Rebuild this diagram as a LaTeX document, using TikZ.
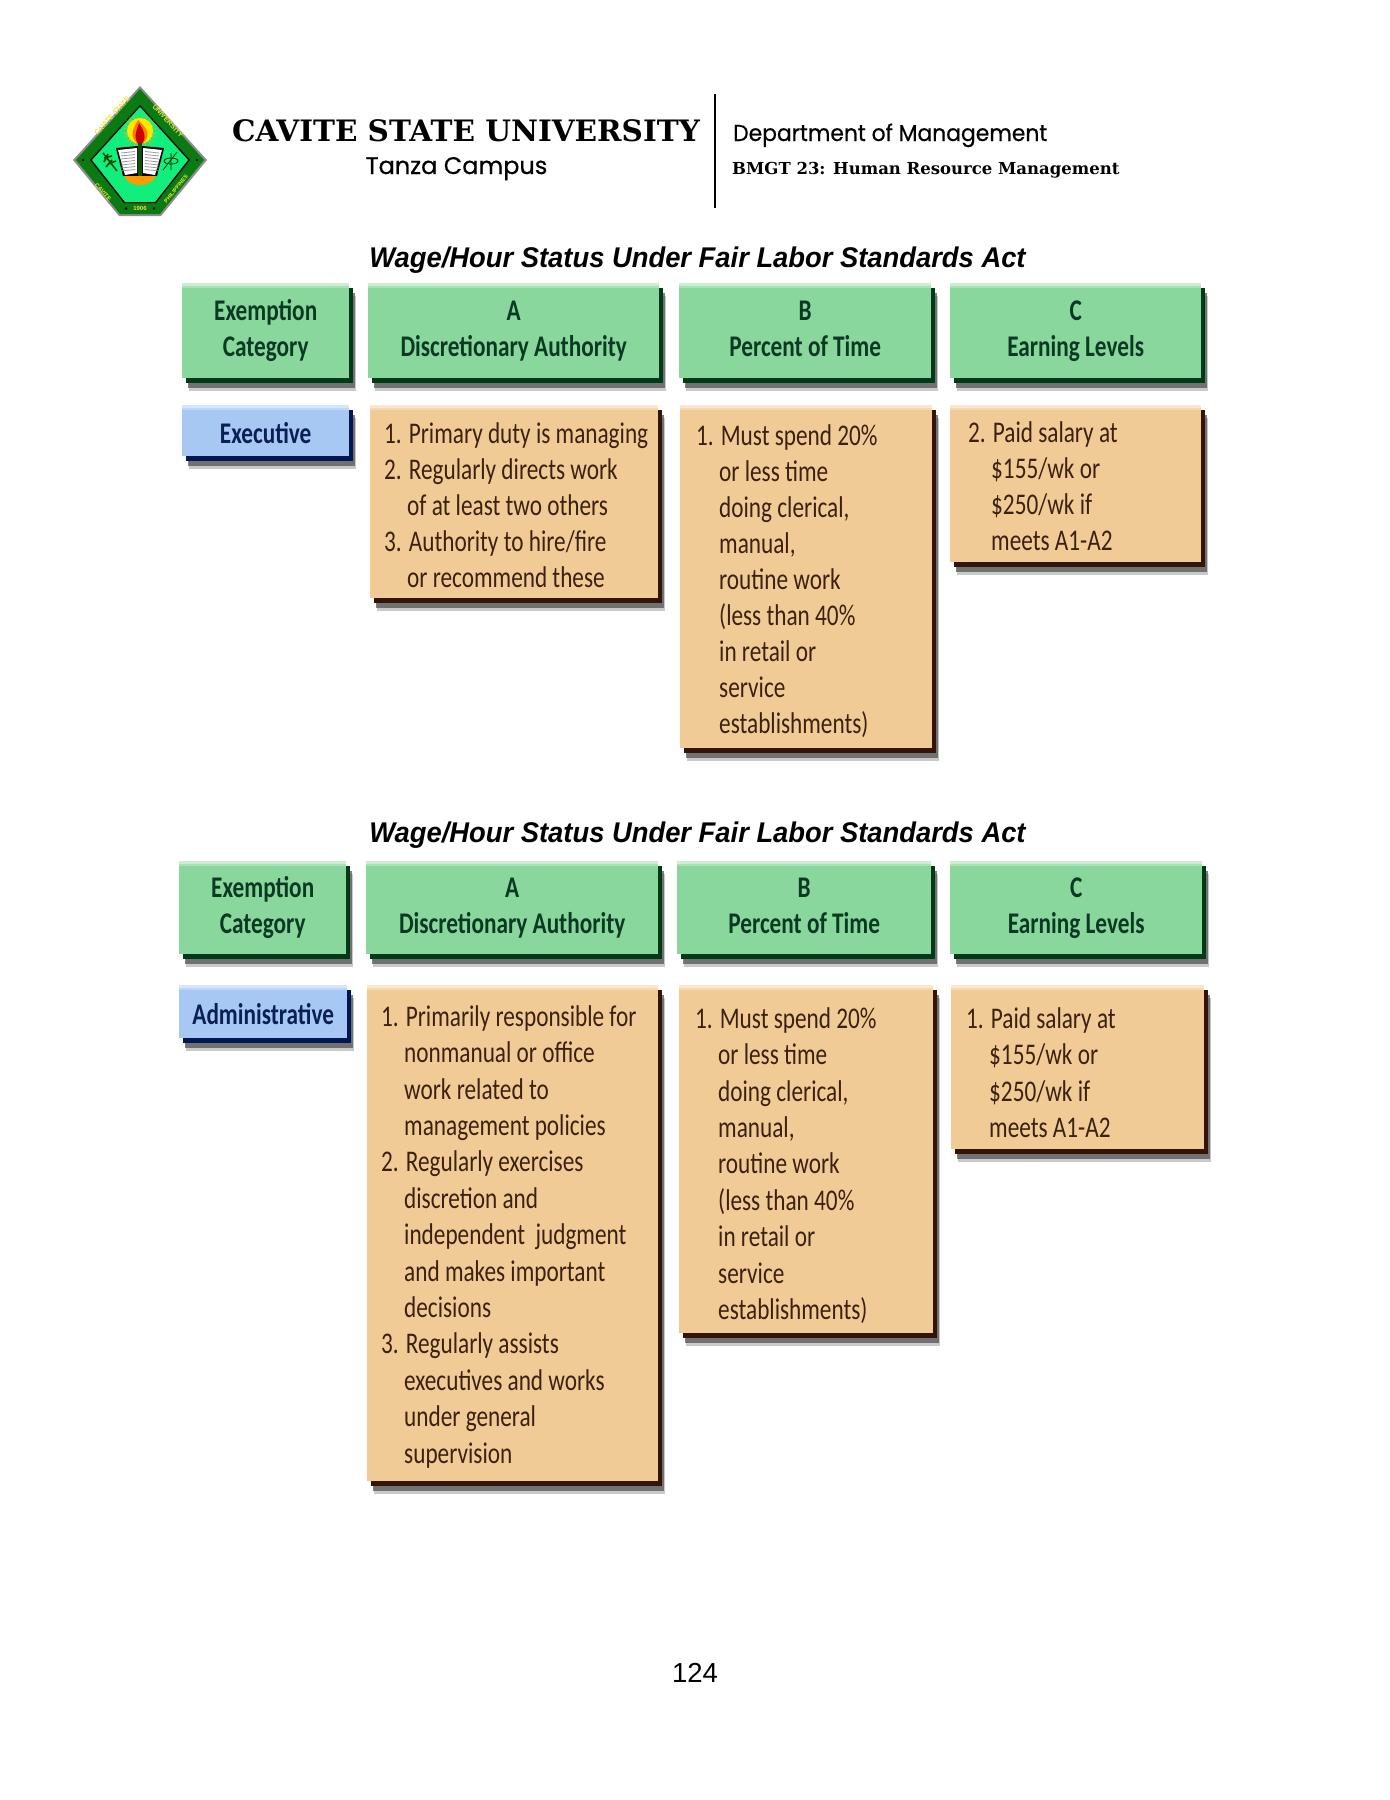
\documentclass[tikz,border=0pt]{standalone}
\usepackage{fontspec}
\usetikzlibrary{shadows}
\setmainfont{Liberation Sans}
\newfontfamily\titlefont[FakeStretch=.96]{Liberation Sans}
\newfontfamily\tblfont[FakeStretch=.775]{Carlito}
\newfontfamily\slabfont{DejaVu Serif}
\newfontfamily\geofont[FakeBold=.5]{Poppins}
\definecolor{hdrgreen}{HTML}{8AD79E}
\definecolor{hdrdark}{HTML}{003A16}
\definecolor{hdrink}{HTML}{0B3A22}
\definecolor{catblue}{HTML}{A8C8F4}
\definecolor{catdark}{HTML}{00184F}
\definecolor{catink}{HTML}{0A1F55}
\definecolor{bodytan}{HTML}{F1CB96}
\definecolor{bodydark}{HTML}{341404}
\definecolor{bodyink}{HTML}{3C2110}
\definecolor{sealgreen}{HTML}{0A7A12}
\definecolor{sealmint}{HTML}{12EE7C}
\definecolor{sealgold}{HTML}{E4E830}
\newcommand{\tblhang}{\hspace*{23pt}}
\newcommand{\firstline}{\rule{0pt}{22pt}}
\tikzset{
  tblbox/.style 2 args={anchor=north west,inner sep=0pt,fill=#1,
    general shadow={shadow xshift=7pt,shadow yshift=-13pt,fill=black!60,opacity=.35},
    general shadow={shadow xshift=6pt,shadow yshift=-10pt,fill=black!70,opacity=.7},
    general shadow={shadow xshift=4pt,shadow yshift=-5pt,fill=#2},
    path picture={\fill[#1!45!white] (path picture bounding box.north west) rectangle ([yshift=-2.5pt]path picture bounding box.north east);
      \fill[#1!75!white] ([yshift=-2.5pt]path picture bounding box.north west) rectangle ([yshift=-5pt]path picture bounding box.north east);}},
  hdrbox/.style={tblbox={hdrgreen}{hdrdark},text=hdrink,font=\tblfont\fontsize{30}{36}\selectfont\bfseries,align=center,execute at begin node={\rule{0pt}{60pt}},execute at end node={\rule[-8pt]{0pt}{8pt}}},
  catbox/.style={tblbox={catblue}{catdark},text=catink,font=\tblfont\fontsize{30}{36}\selectfont\bfseries,align=center,execute at begin node={\rule{0pt}{25pt}}},
  bodybox/.style={tblbox={bodytan}{bodydark}},
  bodytxt/.style={anchor=north west,inner sep=0pt,text=bodyink,font=\tblfont\fontsize{30}{36}\selectfont,align=left},
  tabtitle/.style={inner sep=0pt,font=\titlefont\fontsize{28.5}{34}\selectfont\bfseries\itshape},
  sealtxt/.style={text=sealgold,inner sep=0pt,font=\fontsize{7}{8}\selectfont\bfseries}
}
\begin{document}
\begin{tikzpicture}[x=1pt,y=-1pt]
\path[use as bounding box,fill=white] (0,0) rectangle (1390,1800);
% seal
\fill[black!45] (140,86)--(207,160)--(161,216)--(119,216)--(73,160)--cycle;
\fill[sealgreen] (140,89)--(204,160)--(160,214)--(120,214)--(76,160)--cycle;
\fill[black] (140,105)--(190,160)--(156,203)--(124,203)--(90,160)--cycle;
\fill[sealmint] (140,107)--(188,160)--(155,202)--(125,202)--(92,160)--cycle;
\foreach \ang in {0,30,...,330}{
  \fill[orange!60!yellow] (140,131)++(\ang-12:12)--++(\ang:6)--(140,131)--cycle;
  \fill[orange!60!yellow] (140,131)++(\ang+12:12)--++(\ang:6)--(140,131)--cycle;
}
\fill[yellow!90!orange] (140,131) circle (13);
\fill[orange] (140,146) .. controls (127,136) and (134,128) .. (138,120) .. controls (147,128) and (153,136) .. (140,146);
\fill[red!80!black] (140,146) .. controls (132,138) and (137,130) .. (139,123) .. controls (144,131) and (148,138) .. (140,146);
\fill[black] (116,148)--(138,146)--(142,146)--(164,148)--(157,176)--(123,176)--cycle;
\fill[white] (118,150)--(137,148)--(137,173)--(125,175)--cycle;
\fill[white] (162,150)--(143,148)--(143,173)--(155,175)--cycle;
\foreach \ly in {153,156,...,171}{
  \draw[black!40,line width=.8] (121,\ly)--(135,\ly-1.5);
  \draw[black!40,line width=.8] (159,\ly)--(145,\ly-1.5);
}
\draw[sealgreen!70!black,line width=4] (140,143)--(140,176);
\fill[orange!80!yellow] (124,176) .. controls (129,188) and (151,188) .. (156,176)--cycle;
\draw[sealgreen!60!black,line width=1.6] (103,153)--(117,171) (108,154)--(104,162) (112,160)--(106,167) (104,158)--(112,156) (108,164)--(116,161);
\draw[black!80!green,line width=.8] (171,161) ellipse (7 and 3) (163,170)--(177,152) (171,153)--(171,170);
\node[sealtxt,rotate=48] (sealwest) at (112,116) {CAVITE STATE};
\node[sealtxt,rotate=-48] (sealeast) at (168,121) {UNIVERSITY};
\node[sealtxt,rotate=-50,font=\fontsize{6}{7}\selectfont\bfseries] (sealsw) at (103,192) {CAVITE};
\node[sealtxt,rotate=51,font=\fontsize{5.5}{6}\selectfont\bfseries] (sealse) at (176,189) {PHILIPPINES};
\node[sealtxt,font=\fontsize{6}{7}\selectfont\bfseries] (sealyear) at (140,208.5) {1906};
\fill[black] (83,160) circle (1.3) (197,160) circle (1.3) (126,208.5) circle (1.3) (154,208.5) circle (1.3);
% letterhead
\node[anchor=base,inner sep=0pt,font=\slabfont\fontsize{29.5}{34}\selectfont\bfseries] (univ) at (466,141) {CAVITE STATE UNIVERSITY};
\node[anchor=base,inner sep=0pt,font=\geofont\fontsize{24}{30}\selectfont] (campus) at (456.5,174) {Tanza Campus};
\node[anchor=base west,inner sep=0pt,font=\geofont\fontsize{23}{30}\selectfont\addfontfeature{FakeStretch=.95}] (dept) at (733,141) {Department of Management};
\node[anchor=base west,inner sep=0pt,font=\slabfont\fontsize{16.5}{22}\selectfont\bfseries] (course) at (732,174) {BMGT 23: Human Resource Management};
\coordinate (ruletop) at (715,94);
\coordinate (rulebot) at (715,208);
\draw[line width=1.6] (ruletop)--(rulebot);
% first table
\node[anchor=base,tabtitle] (title) at (697.5,267) {Wage/Hour Status Under Fair Labor Standards Act};
\node[hdrbox,minimum width=167,minimum height=95] (exh) at (182,283) {Exemption\\Category};
\node[hdrbox,minimum width=291,minimum height=95] (exha) at (368,283) {A\\Discretionary Authority};
\node[hdrbox,minimum width=252,minimum height=95] (exhb) at (679,283) {B\\Percent of Time};
\node[hdrbox,minimum width=251,minimum height=95] (exhc) at (950,283) {C\\Earning Levels};
\node[catbox,minimum width=167,minimum height=51] (excat) at (182,405) {Executive};
\node[bodybox,minimum width=288,minimum height=193] (exa) at (370,405) {};
\node[bodybox,minimum width=252,minimum height=343] (exb) at (680,405) {};
\node[bodybox,minimum width=251,minimum height=157] (exc) at (950,405) {};
\node[bodytxt] (exatxt) at (384,421) {\firstline 1. Primary duty is managing\\2. Regularly directs work\\\tblhang of at least two others\\3. Authority to hire/fire\\\tblhang or recommend these};
\node[bodytxt] (exbtxt) at (696,423) {\firstline 1. Must spend 20\%\\\tblhang or less time\\\tblhang doing clerical,\\\tblhang manual,\\\tblhang routine work\\\tblhang (less than 40\%\\\tblhang in retail or\\\tblhang service\\\tblhang establishments)};
\node[bodytxt] (exctxt) at (968,420) {\firstline 2. Paid salary at\\\tblhang \$155/wk or\\\tblhang \$250/wk if\\\tblhang meets A1-A2};
% second table
\node[anchor=base,tabtitle] (titleb) at (697.5,842) {Wage/Hour Status Under Fair Labor Standards Act};
\node[hdrbox,minimum width=167,minimum height=93] (adh) at (179,861) {Exemption\\Category};
\node[hdrbox,minimum width=292,minimum height=93] (adha) at (366,861) {A\\Discretionary Authority};
\node[hdrbox,minimum width=254,minimum height=93] (adhb) at (677,861) {B\\Percent of Time};
\node[hdrbox,minimum width=252,minimum height=93] (adhc) at (950,861) {C\\Earning Levels};
\node[catbox,minimum width=168,minimum height=53] (adcat) at (179,985) {Administrative};
\node[bodybox,minimum width=291,minimum height=496] (ada) at (367,985) {};
\node[bodybox,minimum width=254,minimum height=348] (adb) at (679,985) {};
\node[bodybox,minimum width=253,minimum height=164] (adc) at (951,985) {};
\node[bodytxt,font=\tblfont\fontsize{30}{36.4}\selectfont] (adatxt) at (381,1004) {\firstline 1. Primarily responsible for\\\tblhang nonmanual or office\\\tblhang work related to\\\tblhang management policies\\2. Regularly exercises\\\tblhang discretion and\\\tblhang independent\ \ judgment\\\tblhang and makes important\\\tblhang decisions\\3. Regularly assists\\\tblhang executives and works\\\tblhang under general\\\tblhang supervision};
\node[bodytxt,font=\tblfont\fontsize{30}{36.4}\selectfont] (adbtxt) at (695,1006) {\firstline 1. Must spend 20\%\\\tblhang or less time\\\tblhang doing clerical,\\\tblhang manual,\\\tblhang routine work\\\tblhang (less than 40\%\\\tblhang in retail or\\\tblhang service\\\tblhang establishments)};
\node[bodytxt,font=\tblfont\fontsize{30}{36.4}\selectfont] (adctxt) at (966,1006) {\firstline 1. Paid salary at\\\tblhang \$155/wk or\\\tblhang \$250/wk if\\\tblhang meets A1-A2};
% page number
\node[anchor=base,inner sep=0pt,font=\fontsize{27.5}{30}\selectfont] (pageno) at (695,1682) {124};
\end{tikzpicture}
\end{document}
